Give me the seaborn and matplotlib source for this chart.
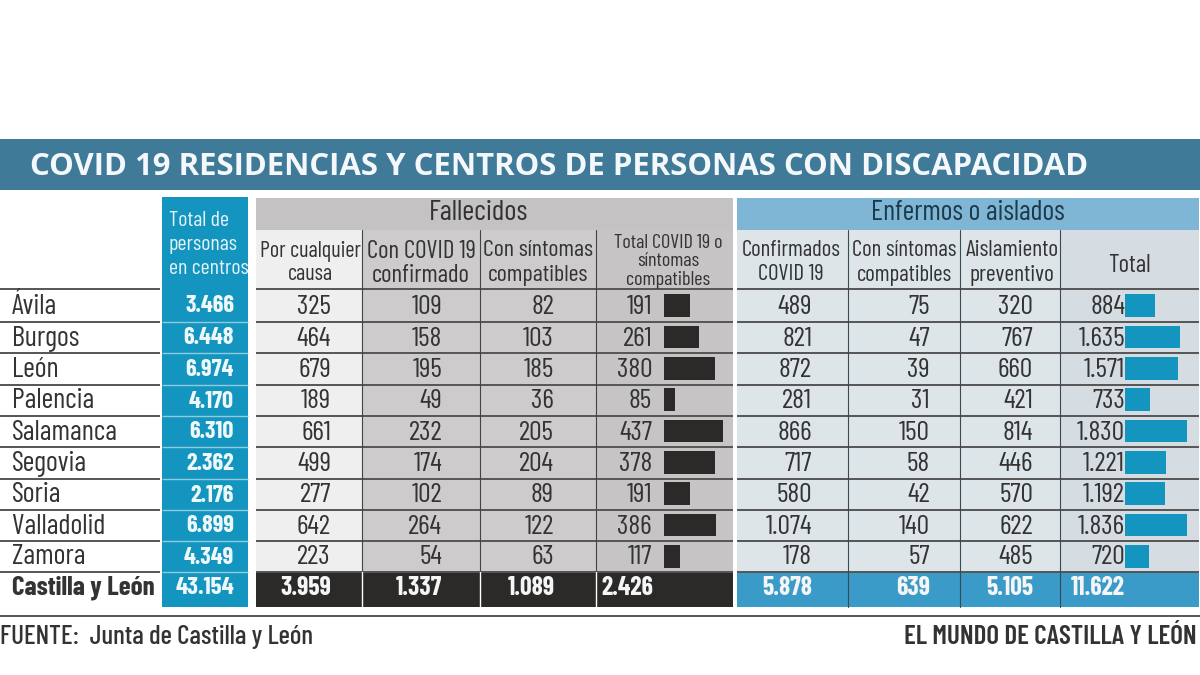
import matplotlib
matplotlib.use('Agg')
import matplotlib.pyplot as plt
import seaborn as sns
from matplotlib import font_manager as fm
from matplotlib.patches import Rectangle

# datos
provincias = ['Ávila', 'Burgos', 'León', 'Palencia', 'Salamanca', 'Segovia', 'Soria', 'Valladolid', 'Zamora']
total_centros = [3466, 6448, 6974, 4170, 6310, 2362, 2176, 6899, 4349]
por_cualquier_causa = [325, 464, 679, 189, 661, 499, 277, 642, 223]
covid_confirmado = [109, 158, 195, 49, 232, 174, 102, 264, 54]
con_sintomas = [82, 103, 185, 36, 205, 204, 89, 122, 63]
total_fallecidos = [191, 261, 380, 85, 437, 378, 191, 386, 117]
confirmados = [489, 821, 872, 281, 866, 717, 580, 1074, 178]
sintomas_enf = [75, 47, 39, 31, 150, 58, 42, 140, 57]
aislamiento = [320, 767, 660, 421, 814, 446, 570, 622, 485]
total_enfermos = [884, 1635, 1571, 733, 1830, 1221, 1192, 1836, 720]
fila_total = [43154, 3959, 1337, 1089, 2426, 5878, 639, 5105, 11622]

TEAL = '#1495bf'
NEGRO = '#2b2a29'
AZUL = '#3a9bc8'
TEXTO = '#333333'
LINEA = '#555555'

# fuente estrecha si existe, si no Roboto algo mas pequena
instaladas = {f.name for f in fm.fontManager.ttflist}
ESCALA = 1.0
if 'Barlow Condensed' in instaladas:
    NARROW = 'Barlow Condensed'
elif 'Liberation Sans Narrow' in instaladas:
    NARROW = 'Liberation Sans Narrow'
    ESCALA = 0.9
else:
    NARROW = 'Roboto'
    ESCALA = 0.68


def miles(v):
    return f'{v:,}'.replace(',', '.')


sns.set_theme(style='white')
plt.rcParams['font.family'] = [NARROW, 'DejaVu Sans']

fig = plt.figure(figsize=(12, 6.75), dpi=100, facecolor='white')
ax = fig.add_axes([0, 0, 1, 1])
ax.set_xlim(0, 1200)
ax.set_ylim(675, 0)
ax.axis('off')


def caja(x0, x1, y0, y1, color):
    ax.add_patch(Rectangle((x0, y0), x1 - x0, y1 - y0, color=color, lw=0))


def texto(x, y, t, size, color=TEXTO, ha='center', **kw):
    ax.text(x, y, t, fontsize=size * ESCALA, color=color, ha=ha, va='center', **kw)


# filas: lineas horizontales
lineas_y = [289, 322, 353, 385, 416, 447, 479, 510, 541, 572]
centro_y = [(a + b) / 2 + 1 for a, b in zip(lineas_y[:-1], lineas_y[1:])]
total_y = 588

# titulo
caja(0, 1200, 139, 190, '#3f7a99')
ax.text(30, 167, 'COVID 19 RESIDENCIAS Y CENTROS DE PERSONAS CON DISCAPACIDAD', color='#f4f8fa',
        fontsize=22.4, fontweight='bold', family=['Open Sans', 'DejaVu Sans'], va='center', ha='left')

# fondos de columnas
caja(162, 248, 197, 607, TEAL)
caja(256, 733, 198, 230, '#c4c2c2')
caja(737, 1199, 198, 230, '#7fb6d5')
caja(256, 362, 230, 572, '#efefef')
caja(362, 596, 230, 572, '#cdcbcb')
caja(596, 733, 230, 572, '#c6c4c4')
caja(737, 1060, 230, 572, '#dde5e9')
caja(1060, 1199, 230, 572, '#d5dde3')
caja(256, 733, 572, 607, NEGRO)
caja(737, 1199, 572, 607, AZUL)

# lineas
for y in lineas_y:
    for x0, x1 in [(0, 160), (256, 733), (737, 1199)]:
        ax.plot([x0, x1], [y, y], color=LINEA, lw=1.4, solid_capstyle='butt')
    if y > 289:
        ax.plot([162, 248], [y, y], color='#8fcbe0', lw=1, solid_capstyle='butt')
for x in [362, 480, 596]:
    ax.plot([x, x], [230, 572], color='#444444', lw=0.8)
    ax.plot([x, x], [572, 607], color='white', lw=1)
for x in [848, 960, 1060]:
    ax.plot([x, x], [230, 607], color='#3a4a55', lw=0.8)
ax.plot([0, 1200], [616, 616], color=LINEA, lw=1.4, solid_capstyle='butt')

# cabeceras
texto(479, 213, 'Fallecidos', 21)
texto(968, 213, 'Enfermos o aislados', 20.3, color='#1d3a4a')
for y, t in zip([220, 245, 268], ['Total de', 'personas', 'en centros']):
    texto(169, y, t, 15.8, color='#e4f3f8', ha='left')

subcabeceras = [
    (310, 'Por cualquier', 'causa', 16),
    (421, 'Con COVID 19', 'confirmado', 18),
    (538, 'Con síntomas', 'compatibles', 17.3),
    (791, 'Confirmados', 'COVID 19', 16.5),
    (904, 'Con síntomas', 'compatibles', 16.5),
    (1012, 'Aislamiento', 'preventivo', 17),
]
for x, l1, l2, size in subcabeceras:
    texto(x, 251, l1, size)
    texto(x, 275, l2, size)
for y, t in zip([243, 261, 280], ['Total COVID 19 o', 'síntomas', 'compatibles']):
    texto(668, y, t, 14.5)
texto(1129, 265, 'Total', 18)

# valores por columna, alineados a la derecha
columnas = [
    (por_cualquier_causa, 331),
    (covid_confirmado, 442),
    (con_sintomas, 554),
    (total_fallecidos, 652),
    (confirmados, 812),
    (sintomas_enf, 930),
    (aislamiento, 1033),
    (total_enfermos, 1125),
]
for i, nombre in enumerate(provincias):
    y = centro_y[i]
    texto(12, y, nombre, 20.5, ha='left')
    texto(234, y, miles(total_centros[i]), 17.5, color='#eef8fb', ha='right', fontweight='bold')
    for valores, x in columnas:
        texto(x, y, miles(valores[i]), 20, ha='right')

# fila de totales
texto(12, total_y, 'Castilla y León', 19.5, ha='left', fontweight='bold')
texto(234, total_y, miles(fila_total[0]), 18, color='#eef8fb', ha='right', fontweight='bold')
xs_total = [331, 442, 555, 653, 812, 930, 1033, 1125]
for v, x in zip(fila_total[1:], xs_total):
    texto(x, total_y, miles(v), 18.5, color='#f5f5f5', ha='right', fontweight='bold')

# pie
texto(0, 637, 'FUENTE:  Junta de Castilla y León', 19.5, ha='left', fontweight='medium')
texto(1197, 637, 'EL MUNDO DE CASTILLA Y LEÓN', 19.5, ha='right', fontweight='semibold')


# barras con seaborn
def barras(valores, x_px, ancho_px, px_por_unidad, color):
    bar_ax = fig.add_axes([x_px / 1200, 1 - 572 / 675, ancho_px / 1200, (572 - 290) / 675])
    sns.barplot(x=valores, y=provincias, color=color, saturation=1, width=0.72, linewidth=0, ax=bar_ax)
    bar_ax.set_xlim(0, ancho_px / px_por_unidad)
    bar_ax.set_ylim(8.5, -0.5)
    bar_ax.axis('off')
    bar_ax.patch.set_alpha(0)


barras(total_fallecidos, 664, 69, 0.135, NEGRO)
barras(total_enfermos, 1125, 75, 0.0338, TEAL)

fig.savefig('out.png', dpi=100)
